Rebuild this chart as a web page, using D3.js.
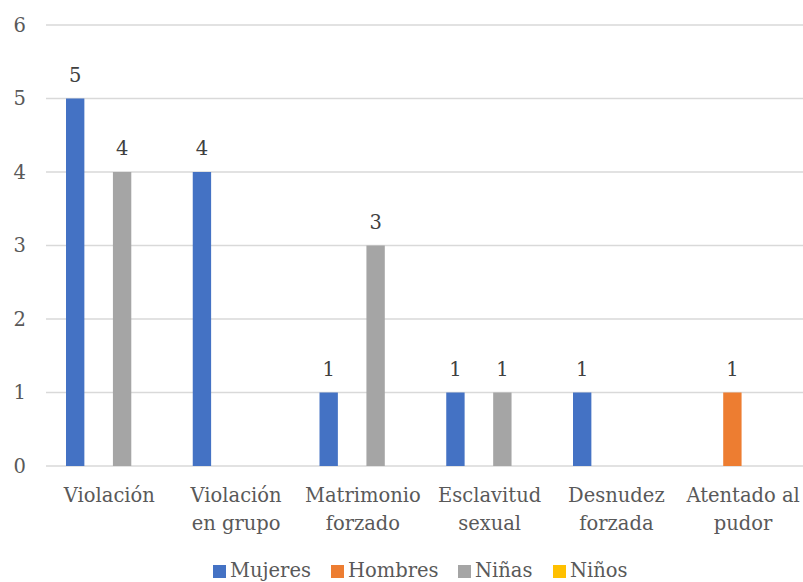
<!DOCTYPE html>
<html><head><meta charset="utf-8">
<script src="https://cdn.jsdelivr.net/npm/d3@7"></script>
<style>body{margin:0;background:#fff}svg{display:block}</style>
</head><body>
<script>
const categories = [["Violación"],["Violación","en grupo"],["Matrimonio","forzado"],["Esclavitud","sexual"],["Desnudez","forzada"],["Atentado al","pudor"]];
const seriesNames = ["Mujeres","Hombres","Niñas","Niños"];
const mujeres = [5,4,1,1,1,0];
const hombres = [0,0,0,0,0,1];
const ninas = [4,0,3,1,0,0];
const ninos = [0,0,0,0,0,0];
const yTicks = [0,1,2,3,4,5,6];
const colors = ["#4472C4","#ED7D31","#A5A5A5","#FFC000"];
const seriesValues = [mujeres,hombres,ninas,ninos];

const W=803,H=582;
const FONT="DejaVu Serif";
const FS="19.5px";
const svg=d3.select("body").append("svg").attr("width",W).attr("height",H);
const x0=46, bandW=126.75;
const x=d3.scaleBand().domain(d3.range(categories.length)).range([x0,x0+bandW*categories.length]).paddingInner(0).paddingOuter(0);
const inner=d3.scaleBand().domain(d3.range(4)).range([20,bandW-18]).paddingInner(5/23).paddingOuter(0);
const y=d3.scaleLinear().domain([0,6]).range([466,25]);

svg.append("g").selectAll("line").data(yTicks).join("line")
 .attr("x1",x0).attr("x2",W).attr("y1",d=>y(d)).attr("y2",d=>y(d))
 .attr("stroke","#D9D9D9").attr("stroke-width",1.3);
svg.append("g").selectAll("text").data(yTicks).join("text")
 .attr("x",26).attr("y",d=>y(d)).attr("dy","0.35em").attr("text-anchor","end")
 .style("font-family",FONT).style("font-size",FS).attr("fill","#595959").text(d=>d);

seriesValues.forEach((vals,s)=>{
  const g=svg.append("g");
  vals.forEach((v,i)=>{
    if(v<=0) return;
    const bx=x(i)+inner(s);
    g.append("rect").attr("x",bx).attr("width",inner.bandwidth()).attr("y",y(v)).attr("height",y(0)-y(v)).attr("fill",colors[s]);
    g.append("text").attr("x",bx+inner.bandwidth()/2).attr("y",y(v)-17).attr("text-anchor","middle")
     .style("font-family",FONT).style("font-size",FS).attr("fill","#404040").text(v);
  });
});

categories.forEach((lines,i)=>{
  const t=svg.append("text").attr("text-anchor","middle").style("font-family",FONT).style("font-size",FS).attr("fill","#595959");
  lines.forEach((l,k)=>t.append("tspan").attr("x",x(i)+bandW/2).attr("y",502+k*28).text(l));
});

const legX=[213,331,458,553];
seriesNames.forEach((n,s)=>{
  svg.append("rect").attr("x",legX[s]).attr("y",565).attr("width",13).attr("height",13).attr("fill",colors[s]);
  svg.append("text").attr("x",legX[s]+17).attr("y",577).style("font-family",FONT).style("font-size",FS).attr("fill","#595959").text(n);
});
</script>
</body></html>
